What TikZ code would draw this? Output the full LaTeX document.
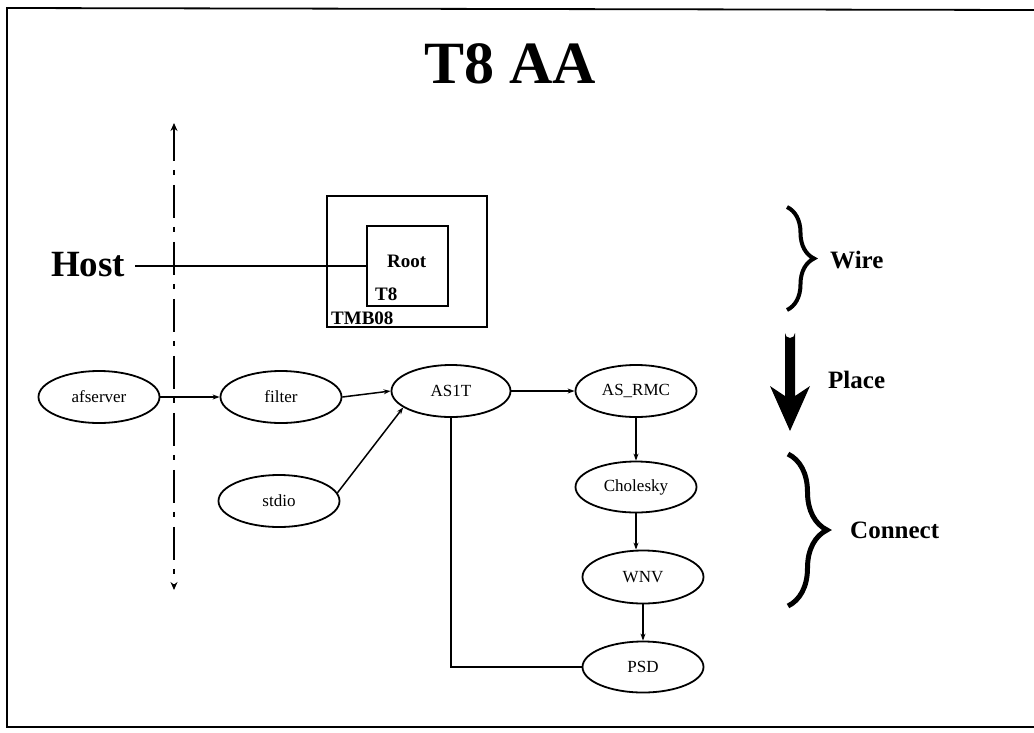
\documentclass[tikz,border=0pt]{standalone}
\usepackage{fontspec}
\setmainfont{Liberation Serif}
\usetikzlibrary{shapes.geometric,arrows.meta,decorations.pathreplacing}
\begin{document}
\begin{tikzpicture}[x=1pt,y=-1pt,
  proc/.style={draw,ellipse,line width=1.8pt,minimum width=121pt,minimum height=52pt,inner sep=0pt,font=\fontsize{17}{19}\selectfont},
  conn/.style={line width=1.5pt,-{Stealth[length=7pt,width=5pt]}},
  plain/.style={line width=1.5pt},
  lbl/.style={inner sep=0pt,anchor=base west,font=\fontsize{25}{28}\selectfont\bfseries},
  boxl/.style={inner sep=0pt,anchor=base west,font=\fontsize{19}{21}\selectfont\bfseries},
  bracestyle/.style={decorate,decoration={brace,amplitude=#1}}
]
\useasboundingbox (0,0) rectangle (1034,732);
% frame
\draw[line width=1.8pt] (1034,10) -- (7,8) -- (7,727) -- (1034,727);

% title
\node[inner sep=0pt,anchor=base,font=\fontsize{60}{64}\selectfont\bfseries] (title) at (510,83) {T8 AA};

% host side
\node[inner sep=0pt,anchor=base west,font=\fontsize{37}{40}\selectfont\bfseries] (host) at (51,276) {Host};
\coordinate (vtop) at (174,123);
\coordinate (vbot) at (174,590);
\draw[line width=1.8pt,dash pattern=on 33pt off 9pt on 5pt off 10pt,
  {Stealth[length=8pt,width=7pt]}-{Stealth[length=8pt,width=7pt]}] (vtop) -- (vbot);

% boxes
\node[draw,line width=1.5pt,minimum width=160pt,minimum height=131pt,inner sep=0pt] (tmb) at (407,261.5) {};
\node[draw,line width=1.5pt,minimum width=81pt,minimum height=80pt,inner sep=0pt] (root) at (407.5,266) {};
\node[boxl] (rootl) at (387,267) {Root};
\node[boxl] (t8l) at (375,300) {T8};
\node[boxl] (tmbl) at (331,324) {TMB08};
\draw[plain] (host.east |- 0,266) ++(10,0) coordinate (hs) -- (root.west |- hs);

% processes
\node[proc] (afserver) at (99,397) {afserver};
\node[proc] (filter) at (281,397) {filter};
\node[proc] (stdio) at (279,501) {stdio};
\node[proc,minimum width=119pt] (as1t) at (451,391) {AS1T};
\node[proc] (asrmc) at (636,391) {AS\_RMC};
\node[proc,minimum height=51pt] (chol) at (636,487) {Cholesky};
\node[proc,minimum height=53pt] (wnv) at (643,577) {WNV};
\node[proc,minimum height=51pt] (psd) at (643,667) {PSD};

\draw[conn] (afserver.east) -- (filter.west);
\draw[conn] (filter.east) -- (as1t.west);
\draw[conn] (stdio.8) -- (as1t.199);
\draw[conn] (as1t.east) -- (asrmc.west);
\draw[conn] (asrmc.south) -- (chol.north);
\draw[conn] (chol.south) -- (chol.south |- wnv.north);
\draw[conn] (wnv.south) -- (psd.north);
\draw[plain] (psd.west) -| (as1t.south);

% right side
\coordinate (wt) at (787,207);
\coordinate (wb) at (787,310);
\draw[bracestyle=27pt,line width=4pt] (wt) -- (wb);
\node[lbl] (wire) at (830,268) {Wire};

\fill (785,333) arc[start angle=180,end angle=0,radius=5] -- (795,396) -- (810,386) -- (790,431) -- (770,386) -- (785,396) -- cycle;
\node[lbl] (place) at (828,388) {Place};

\coordinate (ct) at (788,454);
\coordinate (cb) at (788,606);
\draw[bracestyle=39pt,line width=5pt] (ct) -- (cb);
\node[lbl] (connect) at (850,538) {Connect};
\end{tikzpicture}
\end{document}
